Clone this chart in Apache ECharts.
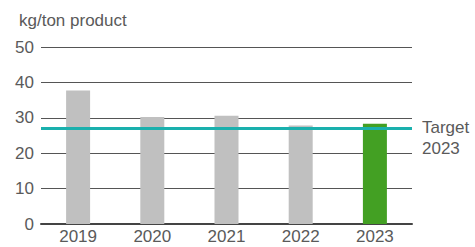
<!DOCTYPE html>
<html>
<head>
<meta charset="utf-8">
<script src="https://cdn.jsdelivr.net/npm/echarts@6/dist/echarts.min.js"></script>
<style>
  html, body { margin: 0; padding: 0; background: #fff; }
  #chart { width: 475px; height: 247px; }
</style>
</head>
<body>
<div id="chart"></div>
<script>
// Values
const years = ['2019', '2020', '2021', '2022', '2023'];
const emissions = [37.7, 30.2, 30.6, 27.8, 28.3];
const target2023 = 27.1;
const yTicks = [0, 10, 20, 30, 40, 50];

const textColor = '#5a5a5a';
const fontFamily = '"Liberation Sans", Arial, sans-serif';

// last bar is highlighted in green, the rest are grey
const barData = emissions.map((v, i) => ({
    value: v,
    itemStyle: { color: i === emissions.length - 1 ? '#43a023' : '#c0c0c0' }
}));

const chart = echarts.init(document.getElementById('chart'), null, { renderer: 'svg' });

chart.setOption({
    animation: false,
    grid: { left: 41, right: 63, top: 47, bottom: 23 },
    title: {
        text: 'kg/ton product',
        left: 14, top: 7,
        textStyle: { color: textColor, fontSize: 17, fontWeight: 'normal', fontFamily: fontFamily }
    },
    xAxis: {
        type: 'category',
        data: years,
        axisTick: { show: false },
        axisLine: { lineStyle: { color: '#444', width: 2 } },
        axisLabel: { color: textColor, fontSize: 17, fontFamily: fontFamily, margin: 4 }
    },
    yAxis: {
        type: 'value',
        min: yTicks[0],
        max: yTicks[yTicks.length - 1],
        interval: 10,
        axisLine: { show: false },
        axisTick: { show: false },
        axisLabel: { color: textColor, fontSize: 17, fontFamily: fontFamily, margin: 7 },
        splitLine: { lineStyle: { color: '#555', width: 1 } }
    },
    series: [{
        type: 'bar',
        data: barData,
        barWidth: 24,
        markLine: {
            silent: true,
            symbol: 'none',
            data: [{ yAxis: target2023 }],
            lineStyle: { color: '#1ab0ad', width: 3, type: 'solid' },
            label: {
                show: true,
                position: 'end',
                formatter: 'Target\n2023',
                color: textColor,
                fontSize: 17,
                lineHeight: 21,
                fontFamily: fontFamily,
                distance: 10,
                align: 'left',
                offset: [0, 10]
            }
        }
    }]
});
</script>
</body>
</html>
